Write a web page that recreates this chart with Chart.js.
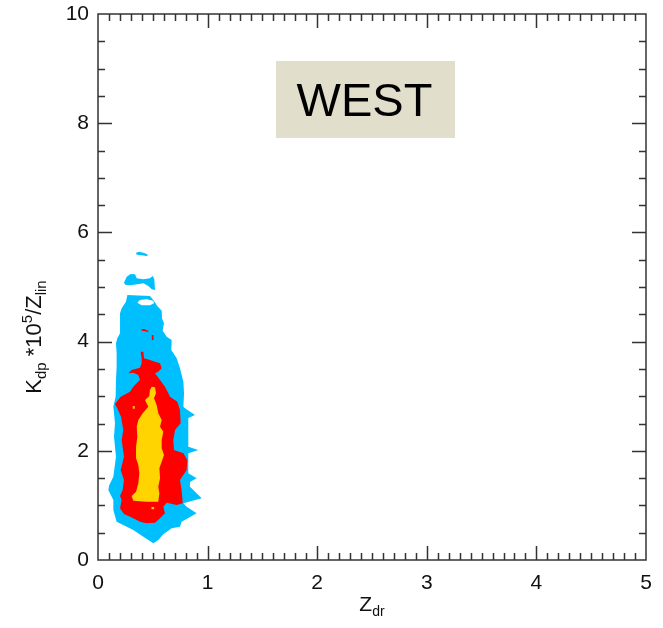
<!DOCTYPE html>
<html>
<head>
<meta charset="utf-8">
<script src="https://cdn.jsdelivr.net/npm/chart.js@4/dist/chart.umd.min.js"></script>
<style>
  html, body { margin: 0; padding: 0; background: #ffffff; }
  #wrap { width: 663px; height: 628px; }
</style>
</head>
<body>
<div id="wrap"><canvas id="c" width="663" height="628"></canvas></div>
<script>
// Occurrence-frequency contours of Kdp*1e5/Zlin versus Zdr (WEST regime).
// Each region is an outline in data units (Zdr, Kdp*1e5/Zlin).

const xTickLabels = [0, 1, 2, 3, 4, 5];
const yTickLabels = [0, 2, 4, 6, 8, 10];

// Lowest contour level (outer envelope)
const outerRegion = [
  [0.268,4.853],[0.474,4.835],[0.505,4.762],[0.541,4.652],[0.581,4.567],[0.584,4.426],
  [0.602,4.335],[0.590,4.200],[0.627,4.090],[0.672,4.029],[0.669,3.846],[0.718,3.694],
  [0.748,3.510],[0.779,3.266],[0.785,3.050],[0.779,2.808],[0.794,2.778],[0.885,2.656],
  [0.824,2.600],[0.824,2.381],[0.824,2.076],[0.915,2.015],[0.824,1.954],[0.824,1.587],
  [0.900,1.496],[0.839,1.430],[0.839,1.343],[0.946,1.130],[0.779,1.038],[0.809,0.977],
  [0.900,0.855],[0.763,0.702],[0.748,0.610],[0.672,0.580],[0.596,0.470],[0.550,0.366],
  [0.505,0.305],[0.414,0.427],[0.322,0.549],[0.170,0.702],[0.140,0.916],[0.140,1.099],
  [0.094,1.282],[0.103,1.374],[0.140,1.526],[0.164,1.893],[0.146,2.259],[0.155,2.503],
  [0.140,2.808],[0.161,2.991],[0.164,3.297],[0.170,3.541],[0.170,3.785],[0.164,3.968],
  [0.176,4.060],[0.201,4.151],[0.201,4.518],[0.216,4.609],[0.255,4.731]
];
const outerCap = [
  [0.237,5.079],[0.262,5.189],[0.298,5.238],[0.338,5.232],[0.353,5.159],[0.414,5.140],
  [0.474,5.159],[0.499,5.201],[0.514,5.140],[0.520,4.945],[0.490,4.957],[0.459,5.018],
  [0.414,5.067],[0.359,5.049],[0.292,5.031],[0.249,5.043]
];
const outerIsle = [
  [0.347,5.629],[0.377,5.647],[0.429,5.617],[0.459,5.586],[0.444,5.568],[0.383,5.586],[0.353,5.592]
];
const outerGap = [
  [0.359,4.713],[0.383,4.762],[0.444,4.774],[0.505,4.750],[0.511,4.701],[0.474,4.664],[0.398,4.664]
];

// Middle contour level
const middleRegion = [
  [0.389,3.816],[0.414,3.816],[0.420,3.694],[0.474,3.663],[0.520,3.632],[0.566,3.602],
  [0.581,3.510],[0.550,3.449],[0.520,3.419],[0.566,3.297],[0.611,3.175],[0.642,3.053],
  [0.657,2.991],[0.724,2.900],[0.748,2.747],[0.754,2.503],[0.703,2.381],[0.687,2.198],
  [0.693,2.015],[0.779,1.954],[0.815,1.832],[0.809,1.648],[0.748,1.465],[0.763,1.282],
  [0.773,1.038],[0.718,1.007],[0.627,1.050],[0.596,0.977],[0.611,0.855],[0.566,0.763],
  [0.520,0.684],[0.444,0.672],[0.383,0.702],[0.322,0.763],[0.237,0.842],[0.201,0.946],
  [0.216,1.099],[0.201,1.172],[0.225,1.282],[0.237,1.465],[0.207,1.648],[0.237,1.893],
  [0.216,2.198],[0.231,2.381],[0.210,2.625],[0.176,2.778],[0.155,2.857],[0.207,2.991],
  [0.262,3.050],[0.292,3.083],[0.322,3.175],[0.353,3.236],[0.383,3.297],[0.368,3.388],
  [0.322,3.431],[0.277,3.419],[0.307,3.480],[0.383,3.523],[0.398,3.602],[0.398,3.694]
];
const middleSpeckA = [[0.398,4.225],[0.420,4.230],[0.459,4.200],[0.459,4.175],[0.430,4.190],[0.398,4.200]];
const middleSpeckB = [[0.490,4.121],[0.505,4.121],[0.508,4.029],[0.492,4.029]];

// Highest contour level (core)
const coreRegion = [
  [0.490,3.175],[0.520,3.162],[0.529,3.053],[0.511,2.961],[0.535,2.839],[0.550,2.686],
  [0.581,2.564],[0.566,2.442],[0.596,2.350],[0.581,2.198],[0.581,2.045],[0.602,1.923],
  [0.581,1.801],[0.560,1.679],[0.566,1.496],[0.550,1.343],[0.560,1.221],[0.550,1.068],
  [0.444,1.068],[0.322,1.087],[0.307,1.172],[0.347,1.252],[0.368,1.404],[0.377,1.587],
  [0.368,1.740],[0.347,1.862],[0.347,2.076],[0.359,2.259],[0.353,2.442],[0.368,2.564],
  [0.408,2.686],[0.459,2.808],[0.429,2.930],[0.468,3.004],[0.474,3.114]
];
const coreSpeckA = [[0.488,0.970],[0.512,0.970],[0.512,0.930],[0.488,0.930]];
const coreSpeckB = [[0.317,2.820],[0.335,2.820],[0.335,2.770],[0.317,2.770]];

const CYAN = '#00bfff', RED = '#ff0000', GOLD = '#ffd400', WHITE = '#ffffff';
const FONT = "'Liberation Sans', Arial, Helvetica, sans-serif";

const toPts = arr => arr.map(([x, y]) => ({ x, y }));
const region = (label, pts, color) => ({
  label, data: toPts(pts), backgroundColor: color, borderColor: color,
  showLine: false, pointRadius: 0, pointHoverRadius: 0
});

const datasets = [
  region('outer', outerRegion, CYAN),
  region('outer cap', outerCap, CYAN),
  region('outer isle', outerIsle, CYAN),
  region('outer gap', outerGap, WHITE),
  region('middle', middleRegion, RED),
  region('middle speck a', middleSpeckA, RED),
  region('middle speck b', middleSpeckB, RED),
  region('core', coreRegion, GOLD),
  region('core speck a', coreSpeckA, GOLD),
  region('core speck b', coreSpeckB, GOLD)
];

// Fills every dataset outline as a closed polygon, in dataset order.
const regionFill = {
  id: 'regionFill',
  beforeDatasetsDraw(chart) {
    const { ctx, chartArea: a, scales: { x, y } } = chart;
    ctx.save();
    ctx.beginPath();
    ctx.rect(a.left, a.top, a.right - a.left, a.bottom - a.top);
    ctx.clip();
    chart.data.datasets.forEach(ds => {
      ctx.beginPath();
      ds.data.forEach((p, i) => {
        const px = x.getPixelForValue(p.x), py = y.getPixelForValue(p.y);
        if (i === 0) ctx.moveTo(px, py); else ctx.lineTo(px, py);
      });
      ctx.closePath();
      ctx.fillStyle = ds.backgroundColor;
      ctx.fill();
    });
    ctx.restore();
  }
};

// Draws text runs (normal / subscript / superscript) starting at x0 on baseline 0.
function drawRuns(ctx, runs, x0) {
  let x = x0;
  runs.forEach(r => {
    ctx.font = r.size + 'px ' + FONT;
    ctx.fillText(r.t, x, r.dy || 0);
    x += ctx.measureText(r.t).width;
  });
}
function runsWidth(ctx, runs) {
  return runs.reduce((w, r) => { ctx.font = r.size + 'px ' + FONT; return w + ctx.measureText(r.t).width; }, 0);
}

// Boxed frame with inward ticks on all four sides, axis titles and the panel tag.
const frameAndLabels = {
  id: 'frameAndLabels',
  afterDraw(chart, args, opts) {
    const { ctx, chartArea: a, scales: { x, y } } = chart;
    ctx.save();
    ctx.strokeStyle = '#333333';
    ctx.lineWidth = 1.5;
    ctx.beginPath();
    for (let i = 1; i < 50; i++) {
      const px = Math.round(x.getPixelForValue(i * 0.1)) + 0.5;
      const len = i % 10 === 0 ? 14 : 7;
      ctx.moveTo(px, a.bottom); ctx.lineTo(px, a.bottom - len);
      ctx.moveTo(px, a.top); ctx.lineTo(px, a.top + len);
    }
    for (let i = 1; i < 20; i++) {
      const py = Math.round(y.getPixelForValue(i * 0.5)) + 0.5;
      const len = i % 4 === 0 ? 14 : 7;
      ctx.moveTo(a.left, py); ctx.lineTo(a.left + len, py);
      ctx.moveTo(a.right, py); ctx.lineTo(a.right - len, py);
    }
    ctx.stroke();
    ctx.strokeRect(a.left, a.top, a.right - a.left, a.bottom - a.top);

    ctx.fillStyle = '#111111';
    ctx.textAlign = 'left';
    ctx.textBaseline = 'alphabetic';

    // x title: Z_dr
    const xRuns = [{ t: 'Z', size: 21 }, { t: 'dr', size: 14, dy: 5 }];
    const xw = runsWidth(ctx, xRuns);
    ctx.save();
    ctx.translate((a.left + a.right) / 2, 611);
    drawRuns(ctx, xRuns, -xw / 2);
    ctx.restore();

    // y title: K_dp *10^5/Z_lin
    const yRuns = [
      { t: 'K', size: 22 }, { t: 'dp', size: 15, dy: 5 },
      { t: ' *10', size: 22 }, { t: '5', size: 15, dy: -9 },
      { t: '/Z', size: 22 }, { t: 'lin', size: 15, dy: 5 }
    ];
    const yw = runsWidth(ctx, yRuns);
    ctx.save();
    ctx.translate(41, 337);
    ctx.rotate(-Math.PI / 2);
    drawRuns(ctx, yRuns, -yw / 2);
    ctx.restore();

    // panel tag
    const t = opts.tag;
    const bx0 = x.getPixelForValue(t.x0), bx1 = x.getPixelForValue(t.x1);
    const by0 = y.getPixelForValue(t.y1), by1 = y.getPixelForValue(t.y0);
    ctx.fillStyle = '#e1decb';
    ctx.fillRect(bx0, by0, bx1 - bx0, by1 - by0);
    ctx.fillStyle = '#000000';
    ctx.font = '47px ' + FONT;
    ctx.textAlign = 'center';
    ctx.fillText(t.text, (bx0 + bx1) / 2 - 1, (by0 + by1) / 2 + 17);
    ctx.restore();
  }
};

new Chart(document.getElementById('c'), {
  type: 'scatter',
  data: { datasets },
  options: {
    responsive: false,
    animation: false,
    devicePixelRatio: 1,
    layout: { padding: { top: 14, right: 17, left: 0, bottom: 0 } },
    plugins: {
      legend: { display: false },
      tooltip: { enabled: false },
      frameAndLabels: { tag: { text: 'WEST', x0: 1.624, x1: 3.257, y0: 7.73, y1: 9.14 } }
    },
    scales: {
      x: {
        type: 'linear', min: 0, max: 5,
        grid: { display: false, drawTicks: false },
        border: { display: false },
        afterFit: s => { s.height = 68; s.paddingLeft = 0; s.paddingRight = 0; },
        afterBuildTicks: s => { s.ticks = xTickLabels.map(v => ({ value: v })); },
        ticks: {
          color: '#111111', padding: 11, maxRotation: 0,
          font: { family: FONT, size: 21 },
          callback: v => String(v)
        }
      },
      y: {
        type: 'linear', min: 0, max: 10,
        grid: { display: false, drawTicks: false },
        border: { display: false },
        afterFit: s => { s.width = 98; s.paddingTop = 0; s.paddingBottom = 0; },
        afterBuildTicks: s => { s.ticks = yTickLabels.map(v => ({ value: v })); },
        ticks: {
          color: '#111111', padding: 9,
          font: { family: FONT, size: 21 },
          callback: v => String(v)
        }
      }
    }
  },
  plugins: [regionFill, frameAndLabels]
});
</script>
</body>
</html>
